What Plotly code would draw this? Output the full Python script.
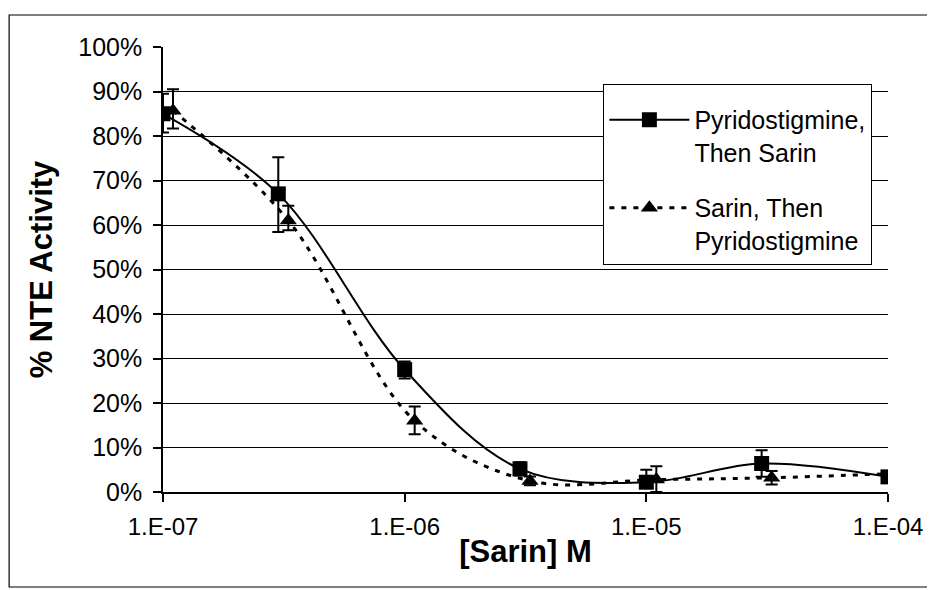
import plotly.graph_objects as go

# Data
x_pyr = [1e-7, 3e-7, 1e-6, 3e-6, 1e-5, 3e-5, 1e-4]
y_pyr = [85.0, 67.0, 27.5, 5.2, 2.2, 6.4, 3.4]
err_pyr_plus = [4.5, 8.2, 1.8, 1.5, 2.8, 3.0, 0.8]
err_pyr_minus = [4.2, 8.6, 2.0, 1.5, 1.2, 3.0, 0.8]

x_sar = [1.1e-7, 3.3e-7, 1.1e-6, 3.3e-6, 1.1e-5, 3.3e-5, 1.1e-4]
y_sar = [85.7, 61.0, 16.0, 2.5, 2.8, 3.2, 4.2]
err_sar_plus = [4.8, 3.3, 3.2, 1.0, 3.0, 1.5, 1.0]
err_sar_minus = [4.0, 2.2, 3.0, 1.0, 2.8, 1.5, 1.0]

x_tickvals = [1e-7, 1e-6, 1e-5, 1e-4]
x_ticktext = ["1.E-07", "1.E-06", "1.E-05", "1.E-04"]

names = ["Pyridostigmine,<br>Then Sarin", "Sarin, Then<br>Pyridostigmine"]

FONT = "Arial, Liberation Sans, sans-serif"

# the page body adds an 8px margin; lay out in page pixels and shift
OFF = 8
W, H = 935 - OFF, 590 - OFF
PL, PR, PT, PB = 163, 891, 47, 492  # plot area in page pixels
L, T = PL - OFF, PT - OFF
R = W - (PR - OFF)
B = H - (PB - OFF)
pw = W - L - R
ph = H - T - B

def px_to_paper(x, y):
    return (x - OFF - L) / pw, (H - B - (y - OFF)) / ph

fig = go.Figure()
fig.add_trace(go.Scatter(
    x=x_pyr, y=y_pyr, name=names[0], legendgroup="a",
    mode="lines+markers",
    line=dict(color="black", width=2, shape="spline", smoothing=1.0),
    marker=dict(symbol="square", size=15, color="black"),
    error_y=dict(type="data", symmetric=False, array=err_pyr_plus,
                 arrayminus=err_pyr_minus, color="black", thickness=2, width=6),
))
fig.add_trace(go.Scatter(
    x=x_sar, y=y_sar, name=names[1], legendgroup="b",
    mode="lines+markers",
    line=dict(color="black", width=3, dash="5px,7px", shape="spline", smoothing=1.0),
    marker=dict(symbol="triangle-up", size=15, color="black"),
    error_y=dict(type="data", symmetric=False, array=err_sar_plus,
                 arrayminus=err_sar_minus, color="black", thickness=2, width=6),
))

x0, y0 = px_to_paper(OFF + 0.5, 15)
x1, y1 = px_to_paper(933, 587)
fig.add_shape(type="rect", xref="paper", yref="paper", x0=x0, y0=y1, x1=x1, y1=y0,
              line=dict(color="black", width=1.2), layer="below")

lx, ly = px_to_paper(605, 84)

fig.update_layout(
    width=W, height=H,
    margin=dict(l=L, r=R, t=T, b=B),
    paper_bgcolor="white", plot_bgcolor="white",
    font=dict(family=FONT, color="black", size=23),
    showlegend=True,
    legend=dict(x=lx, y=ly, xanchor="left", yanchor="top",
                bgcolor="white", bordercolor="black", borderwidth=1.2,
                font=dict(size=25, family=FONT), itemwidth=80,
                tracegroupgap=20, valign="top",
                title=dict(text=" ", font=dict(size=9))),
    xaxis=dict(type="log", range=[-7, -4], tickvals=x_tickvals, ticktext=x_ticktext,
               showgrid=False, showline=True, linecolor="black", linewidth=1.5,
               ticks="outside", ticklen=8, tickcolor="black", tickwidth=1.5,
               ticklabelstandoff=4,
               tickfont=dict(size=24, family=FONT),
               title=dict(text="<b>[Sarin] M</b>", font=dict(size=31, family=FONT), standoff=2),
               zeroline=False),
    yaxis=dict(range=[0, 100], dtick=10, ticksuffix="%",
               showgrid=True, gridcolor="black", gridwidth=1,
               showline=True, linecolor="black", linewidth=1.5,
               ticks="outside", ticklen=8, tickcolor="black", tickwidth=1.5,
               ticklabelstandoff=6,
               tickfont=dict(size=25, family=FONT),
               title=dict(text="<b>% NTE Activity</b>", font=dict(size=31, family=FONT), standoff=16),
               zeroline=False),
)

fig.write_html("out.html")
